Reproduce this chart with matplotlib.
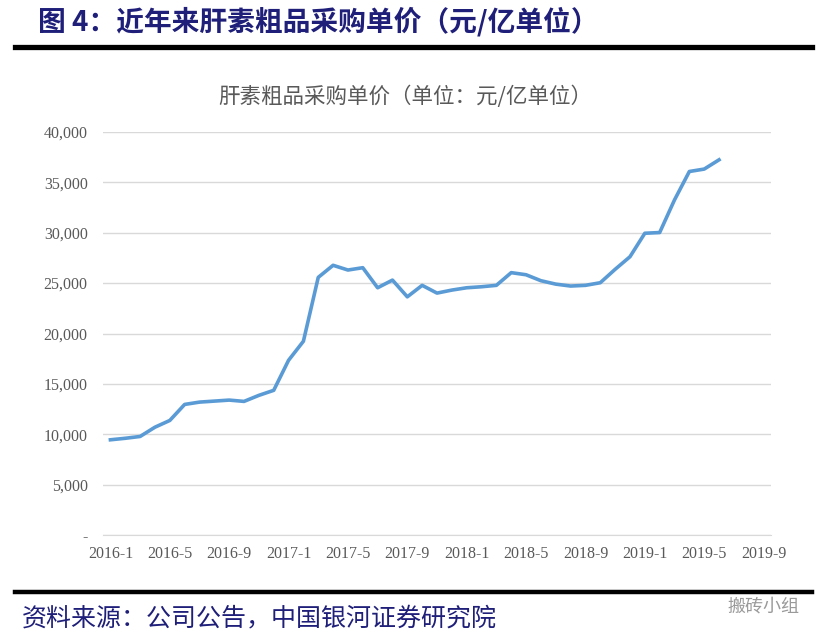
# Heparin crude product purchase unit price chart
import matplotlib
matplotlib.use("Agg")
import matplotlib.pyplot as plt
from matplotlib.lines import Line2D

plt.rcParams["font.family"] = ["Noto Sans CJK SC", "DejaVu Sans"]

# Category axis: 2016-1 .. 2019-9 (monthly)
months = [f"{y}-{m}" for y in range(2016, 2020) for m in range(1, 13)][:45]
tick_labels = months[::4]

# Price (yuan per 100 million units), 2016-1 .. 2019-6
price = [
    9450, 9600, 9780, 10700, 11370, 12960, 13190, 13290, 13390, 13260, 13860, 14360,
    17340, 19230, 25570, 26770, 26300, 26530, 24540, 25300, 23640, 24780, 24010, 24310,
    24540, 24640, 24780, 26040, 25830, 25240, 24900, 24710, 24780, 25040, 26370, 27620,
    29950, 30020, 33260, 36080, 36320, 37240,
]

navy = "#1f1f7a"
grey = "#595959"

fig = plt.figure(figsize=(8.29, 6.42), dpi=100)
ax = fig.add_axes([103 / 829, 1 - 535 / 642, (771 - 103) / 829, (535 - 132) / 642])

x = list(range(len(price)))
ax.plot(x, price, color="#5b9bd5", linewidth=2.6, solid_joinstyle="round")

ax.set_xlim(-0.5, len(months) - 0.5)
ax.set_ylim(0, 40000)
yticks = list(range(0, 40001, 5000))
ax.set_yticks(yticks)
ax.set_yticklabels(["-"] + [f"{v:,}" for v in yticks[1:]])
ax.set_xticks(range(0, len(months), 4))
ax.set_xticklabels(tick_labels)

ax.grid(axis="y", color="#d9d9d9", linewidth=1)
ax.set_axisbelow(True)
for s in ["top", "right", "left"]:
    ax.spines[s].set_visible(False)
ax.spines["bottom"].set_color("#d9d9d9")
ax.tick_params(length=0, colors=grey, labelsize=11.5)
ax.tick_params(axis="y", pad=11)
ax.tick_params(axis="x", pad=8)
for lab in ax.get_xticklabels() + ax.get_yticklabels():
    lab.set_fontfamily("Liberation Serif")

# Chart title inside
fig.text(405 / 829, 1 - 97 / 642, "肝素粗品采购单价（单位：元/亿单位）",
         ha="center", va="center", fontsize=15.5, color=grey)

# Figure header
fig.text(38 / 829, 1 - 22 / 642, "图 4：近年来肝素粗品采购单价（元/亿单位）",
         ha="left", va="center", fontsize=20, fontweight="bold", color=navy)
fig.add_artist(Line2D([15 / 829, 812 / 829], [1 - 47 / 642] * 2, color="black",
                      linewidth=3.8, transform=fig.transFigure))

# Footer
fig.add_artist(Line2D([15 / 829, 812 / 829], [1 - 592 / 642] * 2, color="black",
                      linewidth=3.2, transform=fig.transFigure))
fig.text(22 / 829, 1 - 618 / 642, "资料来源：公司公告，中国银河证券研究院",
         ha="left", va="center", fontsize=18, style="italic", color=navy)
fig.text(800 / 829, 1 - 606 / 642, "搬砖小组", ha="right", va="center",
         fontsize=13, color="#9a9a9a")

fig.savefig("out.png", dpi=100)
